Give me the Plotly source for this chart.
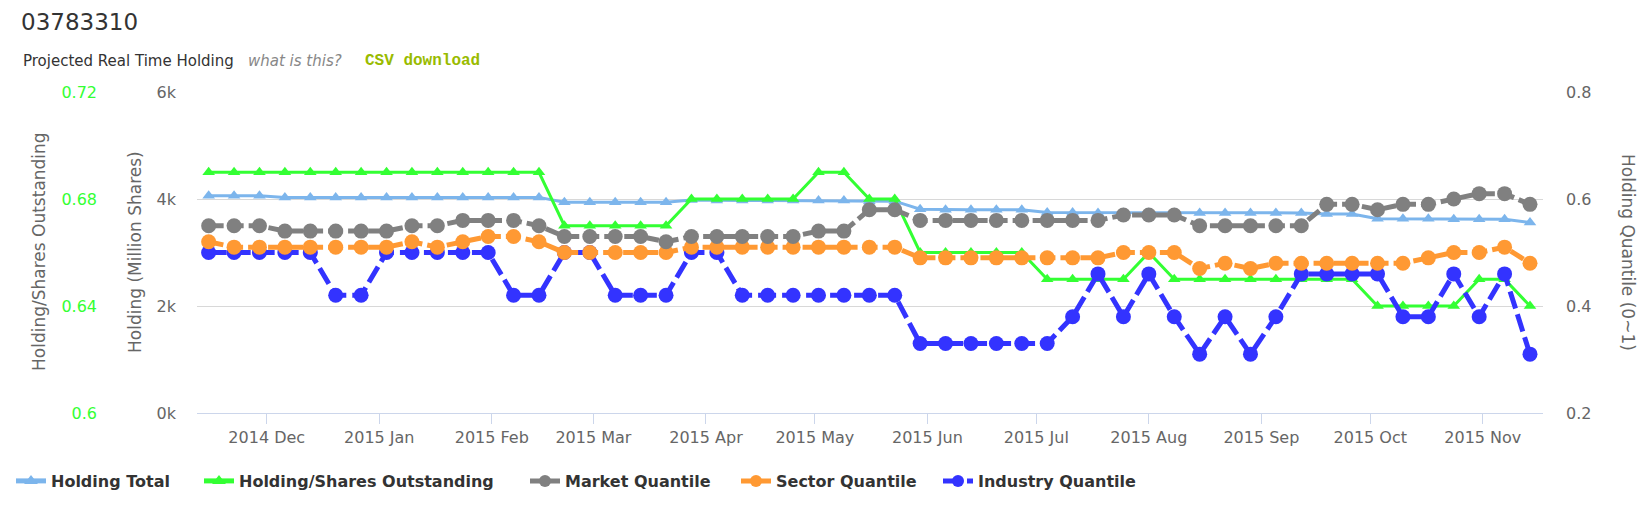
import pandas as pd
import plotly.graph_objects as go

# weekly snapshots
dates = pd.date_range("2014-11-15", periods=53, freq="7D")

holding_total = [4060, 4060, 4060, 4030, 4030, 4030, 4030, 4030, 4030, 4030, 4030, 4030, 4030, 4030,
                 3940, 3940, 3940, 3940, 3940,
                 3980, 3970, 3970, 3970, 3970, 3970, 3970, 3960, 3960,
                 3810, 3800, 3800, 3800, 3800,
                 3750, 3750, 3740, 3740, 3740, 3740, 3740, 3740, 3740, 3740, 3740,
                 3720, 3720, 3630, 3630, 3630, 3620, 3620, 3620, 3560]

shares_ratio = [0.69] * 14 + [0.67] * 5 + [0.68] * 5 + [0.69] * 2 + [0.68] * 2 + [0.66] * 5 \
    + [0.65] * 4 + [0.66] + [0.65] * 8 + [0.64] * 4 + [0.65] * 2 + [0.64]

market_q = [0.55, 0.55, 0.55, 0.54, 0.54, 0.54, 0.54, 0.54, 0.55, 0.55, 0.56, 0.56, 0.56, 0.55,
            0.53, 0.53, 0.53, 0.53, 0.52, 0.53, 0.53, 0.53, 0.53, 0.53, 0.54, 0.54, 0.58, 0.58,
            0.56, 0.56, 0.56, 0.56, 0.56, 0.56, 0.56, 0.56, 0.57, 0.57, 0.57,
            0.55, 0.55, 0.55, 0.55, 0.55, 0.59, 0.59, 0.58, 0.59, 0.59, 0.60, 0.61, 0.61, 0.59]

sector_q = [0.52, 0.51, 0.51, 0.51, 0.51, 0.51, 0.51, 0.51, 0.52, 0.51, 0.52, 0.53, 0.53, 0.52,
            0.50, 0.50, 0.50, 0.50, 0.50, 0.51, 0.51, 0.51, 0.51, 0.51, 0.51, 0.51, 0.51, 0.51,
            0.49, 0.49, 0.49, 0.49, 0.49, 0.49, 0.49, 0.49, 0.50, 0.50, 0.50,
            0.47, 0.48, 0.47, 0.48, 0.48, 0.48, 0.48, 0.48, 0.48, 0.49, 0.50, 0.50, 0.51, 0.48]

industry_q = [0.50, 0.50, 0.50, 0.50, 0.50, 0.42, 0.42, 0.50, 0.50, 0.50, 0.50, 0.50, 0.42, 0.42,
              0.50, 0.50, 0.42, 0.42, 0.42, 0.50, 0.50, 0.42, 0.42, 0.42, 0.42, 0.42, 0.42, 0.42,
              0.33, 0.33, 0.33, 0.33, 0.33, 0.33, 0.38, 0.46, 0.38, 0.46, 0.38,
              0.31, 0.38, 0.31, 0.38, 0.46, 0.46, 0.46, 0.46, 0.38, 0.38, 0.46, 0.38, 0.46, 0.31]

holding_ticks = [0, 2000, 4000, 6000]
holding_labels = ["0k", "2k", "4k", "6k"]
ratio_ticks = [0.6, 0.64, 0.68, 0.72]
ratio_labels = ["0.6", "0.64", "0.68", "0.72"]
quantile_ticks = [0.2, 0.4, 0.6, 0.8]
quantile_labels = ["0.2", "0.4", "0.6", "0.8"]

FONT = "DejaVu Sans"
OFF = 8  # page body margin
W, H = 1648 - OFF, 512 - OFF
# plot area in page pixels
L, R, T, B = 197, 1543, 92, 413


def px(x):
    return (x - L) / (R - L)


def py(y):
    return (B - y) / (B - T)


fig = go.Figure()
fig.add_trace(go.Scatter(x=dates, y=holding_total, name="Holding Total", yaxis="y", legend="legend",
                         mode="lines+markers", line=dict(color="#7cb5ec", width=3),
                         marker=dict(symbol="triangle-up", size=11, color="#7cb5ec")))
fig.add_trace(go.Scatter(x=dates, y=shares_ratio, name="Holding/Shares Outstanding", yaxis="y2", legend="legend2",
                         mode="lines+markers", line=dict(color="#33ff33", width=3),
                         marker=dict(symbol="triangle-up", size=11, color="#33ff33")))
fig.add_trace(go.Scatter(x=dates, y=industry_q, name="Industry Quantile", yaxis="y3", legend="legend5",
                         mode="lines+markers", line=dict(color="#3333ff", width=5, dash="18px,6px"),
                         marker=dict(symbol="circle", size=15, color="#3333ff")))
fig.add_trace(go.Scatter(x=dates, y=sector_q, name="Sector Quantile", yaxis="y3", legend="legend4",
                         mode="lines+markers", line=dict(color="#ff9933", width=5, dash="15px,5px"),
                         marker=dict(symbol="circle", size=15, color="#ff9933")))
fig.add_trace(go.Scatter(x=dates, y=market_q, name="Market Quantile", yaxis="y3", legend="legend3",
                         mode="lines+markers", line=dict(color="#808080", width=5, dash="15px,5px"),
                         marker=dict(symbol="circle", size=15, color="#808080")))

fig.update_layout(
    width=W, height=H,
    margin=dict(l=L - OFF, r=1648 - R, t=T - OFF, b=512 - B),
    paper_bgcolor="white", plot_bgcolor="white",
    font=dict(family=FONT, size=16, color="#666666"),
    title=dict(text="03783310", xref="container", yref="container", x=(21 - OFF) / W, y=1 - (22 - OFF) / H,
               xanchor="left", yanchor="middle", font=dict(size=23, color="#333333")),
    xaxis=dict(type="date", range=["2014-11-11 19:00", "2015-11-17 14:00"],
               tick0="2014-12-01", dtick="M1", tickformat="%Y %b",
               ticks="outside", ticklen=10, tickcolor="#ccd6eb",
               showline=True, linecolor="#ccd6eb", linewidth=1,
               showgrid=False, zeroline=False, automargin=False,
               tickfont=dict(size=16, color="#666666")),
    yaxis=dict(range=[0, 6000], tickvals=holding_ticks, ticktext=holding_labels,
               showgrid=True, gridcolor="#d8d8d8", gridwidth=1, zeroline=False,
               ticklabelstandoff=20, automargin=False,
               tickfont=dict(size=16, color="#666666")),
    yaxis2=dict(range=[0.6, 0.72], tickvals=ratio_ticks, ticktext=ratio_labels,
                overlaying="y", side="left", anchor="free", position=0, shift=-100,
                showgrid=False, zeroline=False, automargin=False,
                tickfont=dict(size=16, color="#33ff33")),
    yaxis3=dict(range=[0.2, 0.8], tickvals=quantile_ticks, ticktext=quantile_labels,
                overlaying="y", side="right", anchor="x",
                showgrid=False, zeroline=False, automargin=False, ticklabelstandoff=22,
                tickfont=dict(size=16, color="#666666")),
    showlegend=True,
)

# one legend box per series so the item spacing follows the reference
legend_text_x = {"legend": 52, "legend2": 240, "legend3": 566, "legend4": 777, "legend5": 979}
for key, tx in legend_text_x.items():
    fig.update_layout({key: dict(orientation="h", xref="container", yref="container",
                                 x=(tx - 41 - OFF) / W, y=1 - (481 - OFF) / H,
                                 xanchor="left", yanchor="middle", itemsizing="constant",
                                 bgcolor="rgba(0,0,0,0)",
                                 font=dict(family=FONT, size=16, color="#333333", weight="bold"))})

annotations = [
    dict(text="Projected Real Time Holding", x=px(21), y=py(61), xanchor="left",
         font=dict(size=15, color="#333333")),
    dict(text="<i>what is this?</i>", x=px(246), y=py(61), xanchor="left",
         font=dict(size=15, color="#888888")),
    dict(text="<b>CSV download</b>", x=px(363), y=py(61), xanchor="left",
         font=dict(family="Liberation Mono, monospace", size=16, color="#99bb00")),
    dict(text="Holding/Shares Outstanding", x=px(39), y=py(252), textangle=-90,
         font=dict(size=17, color="#666666")),
    dict(text="Holding (Million Shares)", x=px(135), y=py(252), textangle=-90,
         font=dict(size=17, color="#666666")),
    dict(text="Holding Quantile (0~1)", x=px(1628), y=py(252), textangle=90,
         font=dict(size=17, color="#666666")),
]
for a in annotations:
    a.update(xref="paper", yref="paper", showarrow=False, yanchor="middle")
    a.setdefault("xanchor", "center")
fig.update_layout(annotations=annotations)

fig.write_html("out.html")
